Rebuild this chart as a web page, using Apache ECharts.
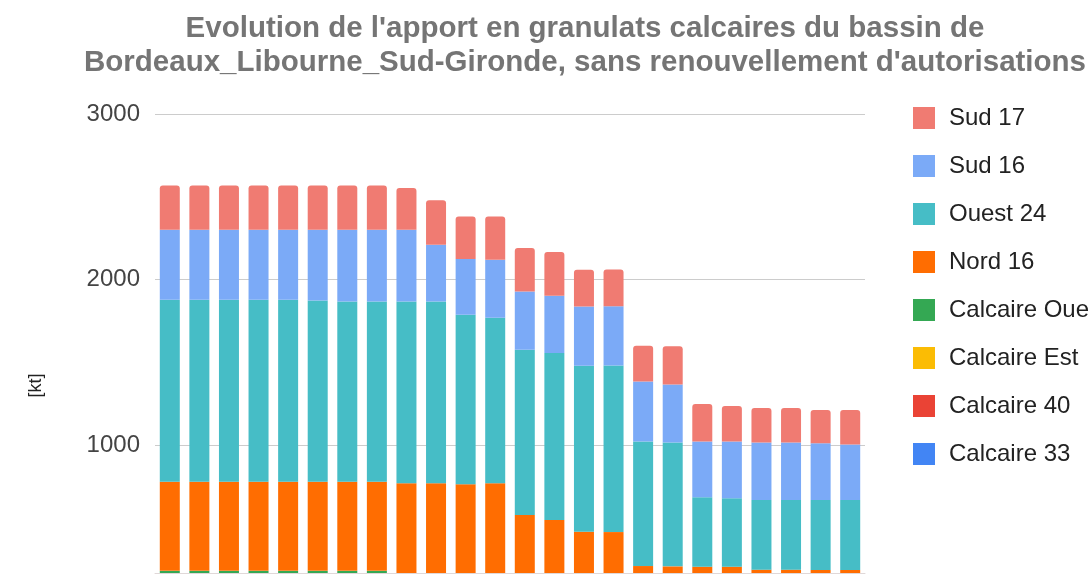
<!DOCTYPE html>
<html>
<head>
<meta charset="utf-8">
<title>Apport en granulats calcaires</title>
<script src="https://cdn.jsdelivr.net/npm/echarts@6/dist/echarts.min.js"></script>
<style>
	html, body { margin: 0; padding: 0; background: #fff; }
	#main { width: 1089px; height: 577px; }
</style>
</head>
<body>
<div id="main"></div>
<script>
// annees (axe x, hors cadre sur la capture)
var years = ['2017','2018','2019','2020','2021','2022','2023','2024','2025','2026','2027','2028',
	'2029','2030','2031','2032','2033','2034','2035','2036','2037','2038','2039','2040'];

// series en kt, de bas en haut dans la pile
// les 4 series "Calcaire" sont presque entierement sous le bas du cadre -> estimees
var calc33   = [120,120,120,120,120,120,120,120,120,120,120,120,120,120,120,120,120,120,120,120,120,120,120,120];
var calc40   = [45,45,45,45,45,45,45,45,45,45,45,45,45,45,45,45,45,45,45,45,45,45,45,45];
var calcEst  = [55,55,55,55,55,55,55,55,55,55,55,55,55,55,55,55,55,55,55,55,55,55,55,55];
var calcOuest = [23,23,23,23,23,23,23,23,0,0,0,0,0,0,0,0,0,0,0,0,0,0,0,0];
var nord16   = [538,538,538,538,538,538,538,538,551,551,545,551,360,330,259,257,52,50,48,48,30,30,28,28];
var ouest24  = [1098,1098,1098,1098,1098,1093,1088,1088,1098,1098,1023,999,997,1007,1001,1005,751,747,419,413,421,421,423,423];
var sud16    = [423,423,423,423,423,428,433,433,433,342,337,351,352,346,358,358,363,350,336,342,346,346,342,334];
var sud17    = [267,267,267,267,267,267,267,267,251,268,257,261,262,264,222,222,215,231,227,215,208,208,201,209];

var yTicks = [1000, 2000, 3000];
var legendOrder = ['Sud 17','Sud 16','Ouest 24','Nord 16','Calcaire Ouest','Calcaire Est','Calcaire 40','Calcaire 33'];

var FONT = "'Liberation Sans', Arial, sans-serif";

function barSerie(name, data, color, top) {
	return {
		name: name,
		type: 'bar',
		stack: 'total',
		data: data,
		barWidth: 20,
		itemStyle: { color: color, borderRadius: top ? [3, 3, 0, 0] : 0 },
		emphasis: { disabled: true }
	};
}

var myChart = echarts.init(document.getElementById('main'));

var option = {
	backgroundColor: '#ffffff',
	animation: false,
	textStyle: { fontFamily: FONT },
	title: {
		text: "Evolution de l'apport en granulats calcaires du bassin de\nBordeaux_Libourne_Sud-Gironde, sans renouvellement d'autorisations",
		left: 580,
		top: 7,
		textAlign: 'center',
		textStyle: { fontFamily: FONT, fontSize: 29.5, fontWeight: 'bold', color: '#757575', lineHeight: 34 }
	},
	legend: {
		orient: 'vertical',
		left: 908,
		top: 101,
		icon: 'rect',
		itemWidth: 22,
		itemHeight: 22,
		itemGap: 24,
		data: legendOrder,
		textStyle: { fontFamily: FONT, fontSize: 24, color: '#222', lineHeight: 24, padding: [0, 0, 0, 9] }
	},
	grid: {
		left: 155,
		right: 224,
		top: 114,
		bottom: 4,
		outerBoundsMode: 'none'
	},
	xAxis: {
		type: 'category',
		data: years,
		axisTick: { show: false },
		axisLabel: { show: false },
		axisLine: { lineStyle: { color: '#e0d8d8' } }
	},
	yAxis: {
		type: 'value',
		min: 230,
		max: 3000,
		splitNumber: 3,
		name: '[kt]',
		nameLocation: 'middle',
		nameRotate: 90,
		nameGap: 110,
		nameTextStyle: { fontFamily: FONT, fontSize: 18, color: '#222', padding: [0, 84, 0, 0] },
		axisLine: { show: false },
		axisTick: { show: false },
		axisLabel: {
			showMinLabel: false,
			margin: 15,
			fontFamily: FONT,
			fontSize: 24,
			color: '#444',
			formatter: function (v) { return yTicks.indexOf(v) >= 0 ? String(v) : ''; }
		},
		splitLine: { lineStyle: { color: '#cccccc' } }
	},
	series: [
		barSerie('Calcaire 33', calc33, '#4285f4'),
		barSerie('Calcaire 40', calc40, '#ea4335'),
		barSerie('Calcaire Est', calcEst, '#fbbc04'),
		barSerie('Calcaire Ouest', calcOuest, '#34a853'),
		barSerie('Nord 16', nord16, '#ff6d01'),
		barSerie('Ouest 24', ouest24, '#46bdc6'),
		barSerie('Sud 16', sud16, '#7baaf7'),
		barSerie('Sud 17', sud17, '#f07b72', true)
	]
};

myChart.setOption(option);
</script>
</body>
</html>
